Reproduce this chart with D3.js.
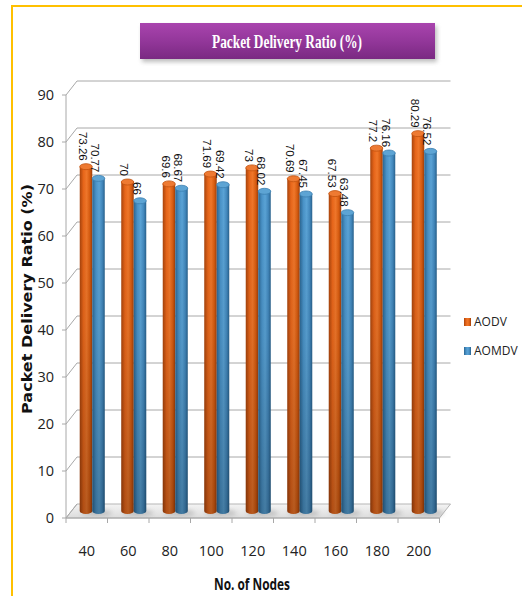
<!DOCTYPE html>
<html>
<head>
<meta charset="utf-8">
<script src="https://cdn.jsdelivr.net/npm/d3@7"></script>
<style>
  html, body { margin: 0; padding: 0; background: #fff; }
  svg { display: block; }
</style>
</head>
<body>
<svg id="chart" width="522" height="596"></svg>
<script>
// Packet delivery ratio for AODV and AOMDV versus network size
const nodes = ["40", "60", "80", "100", "120", "140", "160", "180", "200"];
const aodv = [73.26, 70, 69.6, 71.69, 73, 70.69, 67.53, 77.2, 80.29];
const aomdv = [70.77, 66, 68.67, 69.42, 68.02, 67.45, 63.48, 76.16, 76.52];
const seriesNames = ["AODV", "AOMDV"];
const yTicks = [0, 10, 20, 30, 40, 50, 60, 70, 80, 90];

const svg = d3.select("#chart");
const defs = svg.append("defs");

// depth offset of the back wall relative to the front plane
const DX = 11, DY = -14;

const x = d3.scaleBand().domain(nodes).range([66, 439.5]).paddingInner(0).paddingOuter(0);
const y = d3.scaleLinear().domain([0, 90]).range([518, 95]);
const series = d3.scaleOrdinal().domain(seriesNames).range([0, 1]);

// cylinder gradients
function hGrad(id, stops) {
  const g = defs.append("linearGradient").attr("id", id)
    .attr("x1", "0%").attr("x2", "100%").attr("y1", "0%").attr("y2", "0%");
  stops.forEach(s => g.append("stop").attr("offset", s[0]).attr("stop-color", s[1]));
}
hGrad("gOrange", [[0, "#a9440c"], [0.3, "#e8661a"], [0.55, "#f0772a"], [0.8, "#d85c10"], [1, "#9c3e0a"]]);
hGrad("gBlue", [[0, "#2b6692"], [0.3, "#4a93c8"], [0.55, "#5aa3d6"], [0.8, "#4288bd"], [1, "#28618c"]]);
const shade = defs.append("linearGradient").attr("id", "gShade")
  .attr("x1", "0").attr("x2", "0").attr("y1", "0").attr("y2", "1");
shade.append("stop").attr("offset", 0).attr("stop-color", "#000").attr("stop-opacity", 0);
shade.append("stop").attr("offset", 0.45).attr("stop-color", "#000").attr("stop-opacity", 0.06);
shade.append("stop").attr("offset", 1).attr("stop-color", "#000").attr("stop-opacity", 0.24);

const titleGrad = defs.append("linearGradient").attr("id", "gTitle")
  .attr("x1", "0").attr("x2", "0").attr("y1", "0").attr("y2", "1");
titleGrad.append("stop").attr("offset", 0).attr("stop-color", "#a944ae");
titleGrad.append("stop").attr("offset", 0.5).attr("stop-color", "#93379a");
titleGrad.append("stop").attr("offset", 1).attr("stop-color", "#7a2982");

const floorGrad = defs.append("linearGradient").attr("id", "gFloor")
  .attr("x1", "0").attr("x2", "0").attr("y1", "0").attr("y2", "1");
floorGrad.append("stop").attr("offset", 0).attr("stop-color", "#f4f4f4");
floorGrad.append("stop").attr("offset", 1).attr("stop-color", "#dcdcdc");

const blur = defs.append("filter").attr("id", "fBlur").attr("x", "-20%").attr("y", "-50%")
  .attr("width", "140%").attr("height", "200%");
blur.append("feGaussianBlur").attr("stdDeviation", 2);

// outer frame
svg.append("path").attr("d", "M12,596 L12,6 L522,6")
  .attr("fill", "none").attr("stroke", "#ffc000").attr("stroke-width", 2);

// title banner
svg.append("rect").attr("x", 142).attr("y", 26).attr("width", 295).attr("height", 36)
  .attr("fill", "#888").attr("opacity", 0.55).attr("filter", "url(#fBlur)");
svg.append("rect").attr("x", 140).attr("y", 23).attr("width", 295).attr("height", 36)
  .attr("fill", "url(#gTitle)");
svg.append("text").attr("x", 287).attr("y", 48)
  .attr("text-anchor", "middle")
  .attr("font-family", "'Liberation Serif', 'DejaVu Serif', serif")
  .attr("font-weight", "bold").attr("font-size", 19)
  .attr("textLength", 150).attr("lengthAdjust", "spacingAndGlyphs")
  .attr("fill", "#fff")
  .text("Packet Delivery Ratio (%)");

// floor
const x0 = x.range()[0], x1 = x.range()[1];
svg.append("polygon")
  .attr("points", [[x0, y(0)], [x1, y(0)], [x1 + DX, y(0) + DY], [x0 + DX, y(0) + DY]].join(" "))
  .attr("fill", "url(#gFloor)").attr("stroke", "#b5b5b5").attr("stroke-width", 1);

// gridlines on the back wall and side wall
const grid = svg.append("g").attr("stroke", "#a8a8a8").attr("stroke-width", 1).attr("fill", "none");
yTicks.forEach(v => {
  if (v > 0) {
    grid.append("line").attr("x1", x0 + DX).attr("x2", x1 + DX)
      .attr("y1", y(v) + DY).attr("y2", y(v) + DY);
  }
  grid.append("line").attr("x1", x0).attr("x2", x0 + DX)
    .attr("y1", y(v)).attr("y2", y(v) + DY);
  grid.append("line").attr("x1", x0 - 4).attr("x2", x0)
    .attr("y1", y(v)).attr("y2", y(v));
});
grid.append("line").attr("x1", x0).attr("x2", x0).attr("y1", y(90)).attr("y2", y(0));
grid.append("line").attr("x1", x0).attr("x2", x1).attr("y1", y(0)).attr("y2", y(0));
nodes.forEach(n => {
  grid.append("line").attr("x1", x(n)).attr("x2", x(n)).attr("y1", y(0)).attr("y2", y(0) + 5);
});
grid.append("line").attr("x1", x1).attr("x2", x1).attr("y1", y(0)).attr("y2", y(0) + 5);

// y tick labels
svg.append("g").selectAll("text").data(yTicks).join("text")
  .attr("x", 54).attr("y", d => y(d)).attr("dy", "0.36em")
  .attr("text-anchor", "end")
  .attr("font-family", "'Open Sans', sans-serif").attr("font-size", 14.5)
  .attr("fill", "#222").text(d => d);

// x tick labels
svg.append("g").selectAll("text").data(nodes).join("text")
  .attr("x", d => x(d) + x.bandwidth() / 2).attr("y", 556)
  .attr("text-anchor", "middle")
  .attr("font-family", "'Open Sans', sans-serif").attr("font-size", 14.5)
  .attr("fill", "#222").text(d => d);

// axis titles
svg.append("text").attr("x", 252).attr("y", 590)
  .attr("text-anchor", "middle")
  .attr("font-family", "'Open Sans', sans-serif").attr("font-weight", "bold").attr("font-size", 16)
  .attr("textLength", 76).attr("lengthAdjust", "spacingAndGlyphs")
  .attr("fill", "#111").text("No. of Nodes");
svg.append("text")
  .attr("transform", "translate(32,299) rotate(-90)")
  .attr("text-anchor", "middle")
  .attr("font-family", "'DejaVu Sans', Verdana, sans-serif").attr("font-weight", "bold").attr("font-size", 14.5)
  .attr("textLength", 230).attr("lengthAdjust", "spacingAndGlyphs")
  .attr("fill", "#111").text("Packet Delivery Ratio  (%)");

// bars as cylinders standing midway in depth
const barW = 12.5, ry = 3;
const mid = v => y(v) + DY / 2;
const rows = [];
nodes.forEach((n, i) => {
  rows.push({ n, s: "AODV", v: aodv[i] });
  rows.push({ n, s: "AOMDV", v: aomdv[i] });
});
const bx = d => x(d.n) + x.bandwidth() / 2 + DX / 2 - barW + series(d.s) * barW;
const cylPath = d => {
  const l = bx(d), r = l + barW, t = mid(d.v), b = mid(0), rx = barW / 2;
  return `M${l},${t} L${l},${b} A${rx},${ry} 0 0 0 ${r},${b} L${r},${t} Z`;
};

// soft floor shadows
svg.append("g").selectAll("ellipse").data(rows).join("ellipse")
  .attr("cx", d => bx(d) + barW / 2 + 4).attr("cy", mid(0) + 2)
  .attr("rx", barW / 2 + 3).attr("ry", 3)
  .attr("fill", "#9a9a9a").attr("opacity", 0.45).attr("filter", "url(#fBlur)");

const bars = svg.append("g").selectAll("g").data(rows).join("g");
bars.append("path").attr("d", cylPath)
  .attr("fill", d => d.s === "AODV" ? "url(#gOrange)" : "url(#gBlue)");
bars.append("path").attr("d", cylPath).attr("fill", "url(#gShade)");
bars.append("ellipse")
  .attr("cx", d => bx(d) + barW / 2).attr("cy", d => mid(d.v))
  .attr("rx", barW / 2).attr("ry", ry)
  .attr("fill", d => d.s === "AODV" ? "#ee7a32" : "#5da4d4")
  .attr("stroke", d => d.s === "AODV" ? "#c2520e" : "#3b7fb0").attr("stroke-width", 0.8);

// value labels, rotated to read downward
svg.append("g").selectAll("text").data(rows).join("text")
  .attr("transform", d => `translate(${bx(d) + barW / 2 - 3},${mid(d.v) - ry - 3}) rotate(90)`)
  .attr("dy", "0.35em")
  .attr("text-anchor", "end")
  .attr("font-family", "'Liberation Sans', Arial, sans-serif").attr("font-size", 11.5)
  .attr("fill", "#111").text(d => d.v);

// legend
const legend = svg.append("g").selectAll("g").data(seriesNames).join("g")
  .attr("transform", (d, i) => `translate(464,${318 + i * 29})`);
legend.append("rect").attr("width", 7).attr("height", 8)
  .attr("fill", d => d === "AODV" ? "url(#gOrange)" : "url(#gBlue)");
legend.append("text").attr("x", 10).attr("y", 4).attr("dy", "0.36em")
  .attr("font-family", "'Open Sans', sans-serif").attr("font-size", 12)
  .attr("fill", "#222").text(d => d);
</script>
</body>
</html>
